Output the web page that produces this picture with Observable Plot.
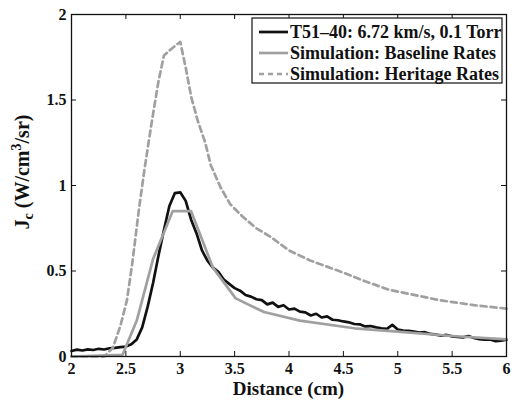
<!DOCTYPE html>
<html><head><meta charset="utf-8">
<script src="https://cdn.jsdelivr.net/npm/d3@7"></script>
<script src="https://cdn.jsdelivr.net/npm/@observablehq/plot@0.6"></script>
<style>
body{margin:0;background:#fff}
#chart{width:512px;height:403px}
</style>
</head><body><div id="chart"></div>
<script>
// Experimental data T51-40
const expDist = [2.00,2.05,2.10,2.15,2.20,2.25,2.30,2.35,2.40,2.45,2.50,2.55,2.60,2.65,2.70,2.75,2.80,2.85,2.90,2.95,3.00,3.05,3.10,3.15,3.20,3.25,3.30,3.35,3.40,3.45,3.50,3.55,3.60,3.65,3.70,3.75,3.80,3.85,3.90,3.95,4.00,4.05,4.10,4.15,4.20,4.25,4.30,4.35,4.40,4.45,4.50,4.55,4.60,4.65,4.70,4.75,4.80,4.85,4.90,4.95,5.00,5.05,5.10,5.15,5.20,5.25,5.30,5.35,5.40,5.45,5.50,5.55,5.60,5.65,5.70,5.75,5.80,5.85,5.90,5.95,6.00];
const expJ = [0.032,0.040,0.035,0.042,0.038,0.045,0.041,0.048,0.050,0.055,0.058,0.072,0.100,0.170,0.290,0.430,0.590,0.740,0.880,0.955,0.960,0.910,0.800,0.720,0.620,0.560,0.520,0.495,0.450,0.425,0.400,0.385,0.360,0.350,0.335,0.330,0.305,0.315,0.290,0.300,0.275,0.280,0.262,0.258,0.240,0.250,0.228,0.235,0.215,0.212,0.205,0.200,0.190,0.188,0.176,0.178,0.170,0.165,0.162,0.185,0.158,0.152,0.150,0.145,0.140,0.142,0.132,0.128,0.122,0.126,0.118,0.114,0.112,0.120,0.108,0.102,0.098,0.100,0.090,0.092,0.098];
// Simulation: Baseline Rates
const baseDist = [2.00,2.47,2.60,2.75,2.93,3.10,3.30,3.51,3.77,4.10,4.60,5.00,5.50,6.00];
const baseJ = [0.0,0.01,0.21,0.57,0.85,0.85,0.52,0.34,0.26,0.21,0.165,0.145,0.12,0.10];
// Simulation: Heritage Rates
const herDist = [2.00,2.30,2.38,2.45,2.51,2.56,2.62,2.67,2.74,2.80,2.85,2.92,3.00,3.05,3.10,3.16,3.23,3.28,3.37,3.46,3.57,3.70,3.83,4.00,4.20,4.46,4.70,4.92,5.15,5.38,5.70,6.00];
const herJ = [0.0,0.0,0.05,0.18,0.33,0.55,0.86,1.09,1.38,1.61,1.76,1.80,1.84,1.69,1.52,1.38,1.25,1.12,0.99,0.89,0.82,0.75,0.70,0.62,0.56,0.50,0.44,0.39,0.36,0.33,0.30,0.28];

const xTicks = [2,2.5,3,3.5,4,4.5,5,5.5,6];
const yTicks = [0,0.5,1,1.5,2];
const seriesNames = ["T51\u201340: 6.72 km/s, 0.1 Torr","Simulation: Baseline Rates","Simulation: Heritage Rates"];

const toRows = (xs, ys) => xs.map((x, i) => ({x, y: ys[i]}));
const expRows = toRows(expDist, expJ);
const baseRows = toRows(baseDist, baseJ);
const herRows = toRows(herDist, herJ);

const W = 512, H = 403, mL = 71, mR = 6, mT = 14, mB = 47;
const innerW = W - mL - mR, innerH = H - mT - mB, tick = 5;
const FONT = "'Liberation Serif', 'Times New Roman', serif";
const styles = [
  {stroke: "#111", dash: null},
  {stroke: "#a0a0a0", dash: null},
  {stroke: "#a0a0a0", dash: "6,4"}
];

const chart = Plot.plot({
  width: W, height: H,
  marginLeft: mL, marginRight: mR, marginTop: mT, marginBottom: mB,
  style: {fontFamily: FONT, fontSize: "16px", fontWeight: "bold", color: "#111", background: "#fff"},
  x: {domain: [2, 6]},
  y: {domain: [0, 2]},
  marks: [
    Plot.axisX({ticks: xTicks, tickSize: 0, tickPadding: 6, tickFormat: d => String(d), label: null}),
    Plot.axisY({ticks: yTicks, tickSize: 0, tickPadding: 5, tickFormat: d => String(d), label: null}),
    Plot.line(expRows, {x: "x", y: "y", stroke: styles[0].stroke, strokeWidth: 2.7}),
    Plot.line(baseRows, {x: "x", y: "y", stroke: styles[1].stroke, strokeWidth: 2.7}),
    Plot.line(herRows, {x: "x", y: "y", stroke: styles[2].stroke, strokeWidth: 2.7, strokeDasharray: styles[2].dash}),
    Plot.ruleX(xTicks, {stroke: "#111", insetTop: innerH - tick}),
    Plot.ruleX(xTicks, {stroke: "#111", insetBottom: innerH - tick}),
    Plot.ruleY(yTicks, {stroke: "#111", insetRight: innerW - tick}),
    Plot.ruleY(yTicks, {stroke: "#111", insetLeft: innerW - tick}),
    Plot.frame({stroke: "#111", strokeWidth: 1.3})
  ]
});
document.getElementById("chart").appendChild(chart);

const svg = d3.select(chart);
// x axis title
svg.append("text").attr("x", mL + innerW / 2).attr("y", 395)
  .attr("text-anchor", "middle").attr("font-family", FONT).attr("font-weight", "bold")
  .attr("font-size", 19).attr("fill", "#111").text("Distance (cm)");
// y axis title with subscript / superscript
const yt = svg.append("text").attr("transform", "translate(29,172) rotate(-90)")
  .attr("text-anchor", "middle").attr("font-family", FONT).attr("font-weight", "bold")
  .attr("font-size", 20).attr("fill", "#111");
yt.append("tspan").text("J");
yt.append("tspan").attr("font-size", 14).attr("dy", 4).text("c");
yt.append("tspan").attr("dy", -4).text(" (W/cm");
yt.append("tspan").attr("font-size", 14).attr("dy", -8).text("3");
yt.append("tspan").attr("dy", 8).text("/sr)");

// legend
const lg = svg.append("g");
lg.append("rect").attr("x", 252).attr("y", 18).attr("width", 250).attr("height", 65)
  .attr("fill", "#fff").attr("stroke", "#111").attr("stroke-width", 1.2);
seriesNames.forEach((name, i) => {
  const cy = 32 + i * 21;
  const ln = lg.append("line").attr("x1", 259).attr("x2", 288).attr("y1", cy).attr("y2", cy)
    .attr("stroke", styles[i].stroke).attr("stroke-width", 2.7);
  if (styles[i].dash) ln.attr("stroke-dasharray", "5,4");
  lg.append("text").attr("x", 290).attr("y", cy + 6).attr("text-anchor", "start").attr("font-family", FONT)
    .attr("font-weight", "bold").attr("font-size", 18).attr("fill", "#111").text(name);
});
</script>
</body></html>
